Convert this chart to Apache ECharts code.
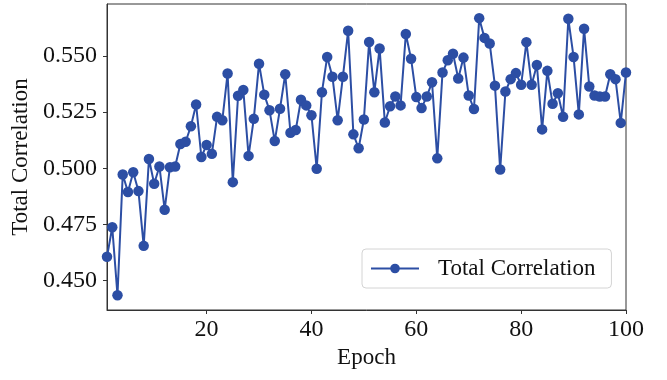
<!DOCTYPE html>
<html>
<head>
<meta charset="utf-8">
<script src="https://cdn.jsdelivr.net/npm/echarts@6/dist/echarts.min.js"></script>
<style>
html,body{margin:0;padding:0;background:#fff;}
#chart{width:667px;height:380px;}
</style>
</head>
<body>
<div id="chart"></div>
<script>
const epochs = [1,2,3,4,5,6,7,8,9,10,11,12,13,14,15,16,17,18,19,20,
  21,22,23,24,25,26,27,28,29,30,31,32,33,34,35,36,37,38,39,40,
  41,42,43,44,45,46,47,48,49,50,51,52,53,54,55,56,57,58,59,60,
  61,62,63,64,65,66,67,68,69,70,71,72,73,74,75,76,77,78,79,80,
  81,82,83,84,85,86,87,88,89,90,91,92,93,94,95,96,97,98,99,100];
const totalCorrelation = [
  0.4605,0.4737,0.4434,0.4972,0.4894,0.4982,0.4898,0.4654,0.5041,0.4931,
  0.5008,0.4815,0.5004,0.5008,0.5108,0.5118,0.5187,0.5284,0.5050,0.5104,
  0.5064,0.5229,0.5214,0.5422,0.4938,0.5323,0.5349,0.5055,0.5220,0.5466,
  0.5328,0.5258,0.5121,0.5265,0.5419,0.5158,0.5170,0.5305,0.5280,0.5236,
  0.4998,0.5339,0.5496,0.5408,0.5214,0.5408,0.5613,0.5151,0.5089,0.5217,
  0.5563,0.5339,0.5534,0.5204,0.5276,0.5320,0.5280,0.5598,0.5488,0.5317,
  0.5268,0.5320,0.5383,0.5044,0.5427,0.5481,0.5510,0.5400,0.5493,0.5324,
  0.5264,0.5669,0.5581,0.5556,0.5368,0.4994,0.5342,0.5397,0.5424,0.5372,
  0.5562,0.5372,0.5460,0.5173,0.5434,0.5287,0.5334,0.5229,0.5666,0.5496,
  0.5240,0.5622,0.5364,0.5324,0.5320,0.5320,0.5419,0.5397,0.5202,0.5427];
const xTicks = [20,40,60,80,100];
const yTicks = [0.450,0.475,0.500,0.525,0.550];
const seriesName = 'Total Correlation';
const xName = 'Epoch';
const yName = 'Total Correlation';

const FONT = '"Liberation Serif","Times New Roman",serif';
const BLUE = '#2c4ea4';
const chart = echarts.init(document.getElementById('chart'), null, {renderer:'canvas'});
chart.setOption({
  animation:false,
  backgroundColor:'#fff',
  grid:{left:107,right:41,top:4,bottom:70,show:true,borderColor:'#333',borderWidth:1,backgroundColor:'transparent'},
  legend:{
    show:true,
    data:[seriesName],
    left:362, top:249,
    padding:[8,16,8,8],
    itemWidth:48, itemHeight:12,
    backgroundColor:'#fff',
    borderColor:'#d4d4d4', borderWidth:1, borderRadius:4,
    textStyle:{fontFamily:FONT,fontSize:23,color:'#111',padding:[0,0,0,14]}
  },
  xAxis:{
    type:'value', min:1, max:100,
    name:xName, nameLocation:'middle', nameGap:35,
    nameTextStyle:{fontFamily:FONT,fontSize:23,color:'#111'},
    axisLine:{show:true,lineStyle:{color:'#333',width:1}},
    axisTick:{show:true,customValues:xTicks,length:4,lineStyle:{color:'#333'}},
    axisLabel:{customValues:xTicks,fontFamily:FONT,fontSize:24,color:'#111',margin:8},
    splitLine:{show:false}
  },
  yAxis:{
    type:'value', min:0.4368, max:0.5732,
    name:yName, nameLocation:'middle', nameGap:62, nameRotate:90,
    nameTextStyle:{fontFamily:FONT,fontSize:23,color:'#111'},
    axisLine:{show:true,lineStyle:{color:'#333',width:1}},
    axisTick:{show:true,customValues:yTicks,length:4,lineStyle:{color:'#333'}},
    axisLabel:{customValues:yTicks,fontFamily:FONT,fontSize:24,color:'#111',margin:10,
      formatter:v=>v.toFixed(3)},
    splitLine:{show:false}
  },
  series:[{
    name:seriesName,
    type:'line',
    data:epochs.map((e,i)=>[e,totalCorrelation[i]]),
    symbol:'circle', symbolSize:10.5,
    lineStyle:{color:BLUE,width:2},
    itemStyle:{color:BLUE},
    clip:true
  }]
});
</script>
</body>
</html>
